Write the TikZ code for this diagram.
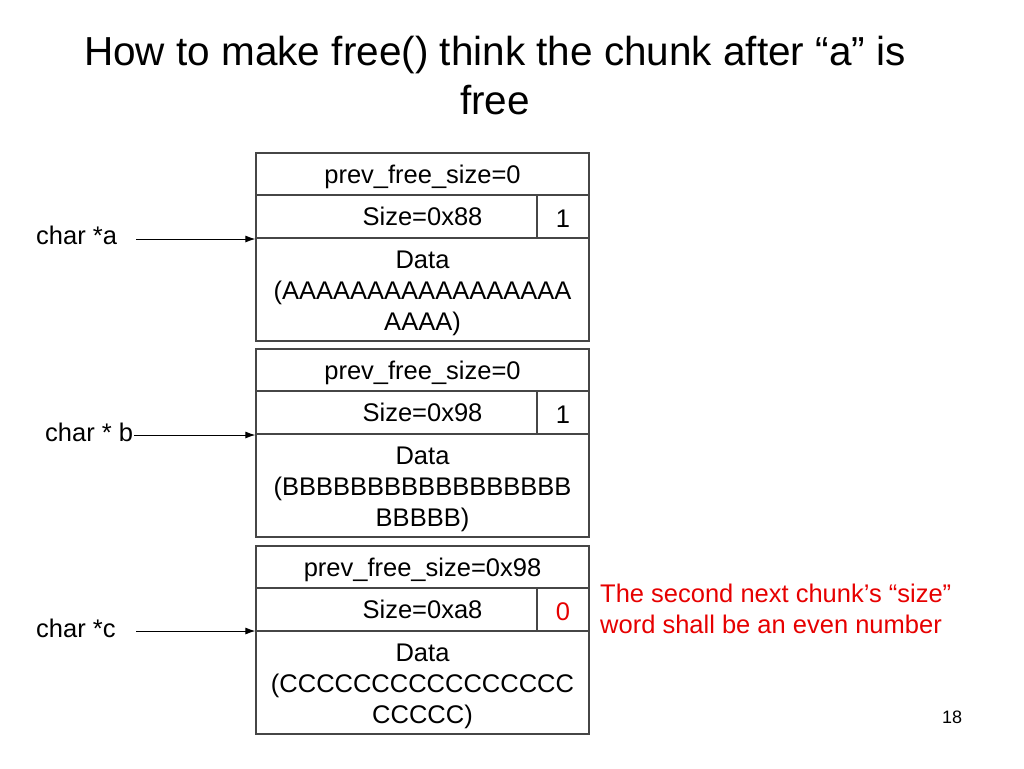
\documentclass[tikz,border=0pt]{standalone}
\usepackage{fontspec}
\setmainfont{Liberation Sans}
\usetikzlibrary{arrows.meta}
\definecolor{boxline}{RGB}{70,70,70}
\definecolor{redtxt}{RGB}{230,0,0}
\newcommand{\lowtxt}[2]{\raisebox{-#1}[\height][\depth]{#2}}
\newcommand{\datatxt}[1]{\lowtxt{4pt}{\begin{tabular}{@{}c@{}}#1\end{tabular}}}
\newcommand{\sizetxt}[1]{\hspace*{52pt}#1}
\begin{document}
\begin{tikzpicture}[x=1pt,y=-1pt,
  cell/.style={draw=boxline,line width=1.3pt,rectangle,inner sep=0pt,align=center,
    font=\fontsize{25.5}{31}\selectfont},
  lbl/.style={anchor=west,inner sep=0pt,font=\fontsize{25.5}{31}\selectfont},
  ptr/.style={line width=0.9pt,-{Latex[length=10pt,width=7pt]}}]
\useasboundingbox (0,0) rectangle (1024,768);

\node[font=\fontsize{40.5}{49}\selectfont,align=center] (title) at (495,76)
  {How to make free() think the chunk after “a” is\\free};

% chunk A
\node[cell,minimum width=333pt,minimum height=42pt] (pA) at (422.5,174) {\lowtxt{3pt}{prev\_free\_size=0}};
\node[cell,minimum width=281pt,minimum height=43pt] (sA) at (396.5,216.5) {\sizetxt{Size=0x88}};
\node[cell,minimum width=52pt,minimum height=43pt] (fA) at (563,216.5) {\lowtxt{2pt}{1}};
\node[cell,minimum width=333pt,minimum height=103pt] (dA) at (422.5,289.5)
  {\datatxt{Data\\(AAAAAAAAAAAAAAAAA\\AAAA)}};

% chunk B
\node[cell,minimum width=333pt,minimum height=42pt] (pB) at (422.5,370) {\lowtxt{3pt}{prev\_free\_size=0}};
\node[cell,minimum width=281pt,minimum height=43pt] (sB) at (396.5,412.5) {\sizetxt{Size=0x98}};
\node[cell,minimum width=52pt,minimum height=43pt] (fB) at (563,412.5) {\lowtxt{2pt}{1}};
\node[cell,minimum width=333pt,minimum height=103pt] (dB) at (422.5,485.5)
  {\datatxt{Data\\(BBBBBBBBBBBBBBBBB\\BBBBB)}};

% chunk C
\node[cell,minimum width=333pt,minimum height=42pt] (pC) at (422.5,567) {\lowtxt{3pt}{prev\_free\_size=0x98}};
\node[cell,minimum width=281pt,minimum height=43pt] (sC) at (396.5,609.5) {\sizetxt{Size=0xa8}};
\node[cell,minimum width=52pt,minimum height=43pt,text=redtxt] (fC) at (563,609.5) {\lowtxt{2pt}{0}};
\node[cell,minimum width=333pt,minimum height=103pt] (dC) at (422.5,682.5)
  {\datatxt{Data\\(CCCCCCCCCCCCCCCC\\CCCCC)}};

% pointers
\node[lbl] (la) at (36,235) {char *a};
\node[lbl] (lb) at (45,432) {char * b};
\node[lbl] (lc) at (36,628) {char *c};
\coordinate (ca) at (136,239);
\coordinate (cb) at (134,435);
\coordinate (cc) at (136,631);
\draw[ptr] (ca) -- (ca -| dA.west);
\draw[ptr] (cb) -- (cb -| dB.west);
\draw[ptr] (cc) -- (cc -| dC.west);

\node[lbl,text=redtxt,align=left] (note) at (600,609)
  {The second next chunk’s “size”\\word shall be an even number};

\node[font=\fontsize{18}{22}\selectfont] (pg) at (952,717) {18};
\end{tikzpicture}
\end{document}
